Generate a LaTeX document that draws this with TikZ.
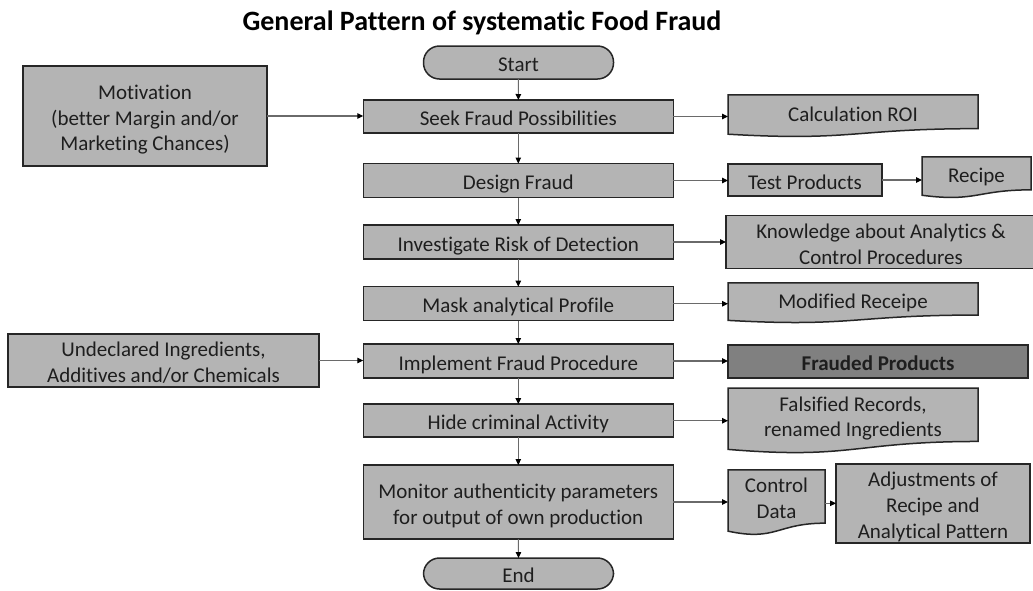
\documentclass[tikz,border=0pt]{standalone}
\usepackage{fontspec}
\setmainfont{Carlito}[Ligatures=NoCommon]
\usetikzlibrary{arrows.meta,backgrounds}

\definecolor{boxfill}{HTML}{B4B4B4}
\definecolor{darkfill}{HTML}{808080}
\definecolor{edge}{HTML}{262626}
\definecolor{wire}{HTML}{6A6A6A}
\definecolor{ink}{HTML}{1E1E1E}

% tall strut opening the first line of a text block
\newcommand\upstrut{\rule{0pt}{1.1em}}

\tikzset{
  txt/.style={font=\fontsize{21}{25.6}\selectfont, text=ink, align=center,
              inner sep=0pt, outer sep=0pt,
              execute at begin node={\upstrut},
              execute at end node={\rule[-0.22em]{0pt}{0.22em}}},
  procbox/.style={txt, rectangle, draw=edge, fill=boxfill, line width=1.5pt},
  termbox/.style={procbox, rounded corners=16pt},
  docarea/.style={txt, rectangle},
  docshape/.style={draw=edge, fill=boxfill, line width=1.5pt},
  flow/.style={draw=wire, line width=1.1pt,
               -{Triangle[length=6pt,width=5.5pt,color=black]}},
}

% wavy-bottom document outline around a text area node (#2 = its height)
\newcommand\docwave[2]{%
  \path[docshape] (#1.north west) -- (#1.north east) -- (#1.south east)
    .. controls (#1.south) and ([yshift=-0.38*#2pt]#1.south)
    .. ([yshift=-0.1646*#2pt]#1.south west) -- cycle;}

\begin{document}
\begin{tikzpicture}[x=1pt,y=-1pt]
  \useasboundingbox (0,0) rectangle (1033,590);

  % title
  \node[anchor=base, inner sep=0pt, font=\fontsize{28}{32}\selectfont\bfseries, text=black]
    (title) at (482,30) {General Pattern of systematic Food Fraud};

  % main process column
  \node[termbox, minimum width=190pt, minimum height=33pt] (start) at (518.5,62.5) {Start};
  \node[procbox, minimum width=310pt, minimum height=33pt] (seek) at (518.3,116.5) {Seek Fraud Possibilities};
  \node[procbox, minimum width=310pt, minimum height=34pt] (design) at (518.3,180.5) {Design Fraud};
  \node[procbox, minimum width=310pt, minimum height=34pt] (invest) at (518.3,242) {Investigate Risk of Detection};
  \node[procbox, minimum width=310pt, minimum height=34pt] (mask) at (518.3,303.7) {Mask analytical Profile};
  \node[procbox, minimum width=310pt, minimum height=34pt] (impl) at (518.3,361) {Implement Fraud Procedure};
  \node[procbox, minimum width=310pt, minimum height=33pt] (hide) at (518.3,420.7) {Hide criminal Activity};
  \node[procbox, minimum width=310pt, minimum height=74pt] (monitor) at (518.3,502)
    {\upstrut Monitor authenticity parameters\\for output of own production};
  \node[termbox, minimum width=190pt, minimum height=31pt] (end) at (518.5,573.5) {End};

  % inputs on the left
  \node[procbox, minimum width=244pt, minimum height=100pt] (motiv) at (145,116)
    {\upstrut Motivation\\(better Margin and/or\\Marketing Chances)};
  \node[procbox, minimum width=311pt, minimum height=51pt] (undecl) at (163.5,360.5)
    {\upstrut Undeclared Ingredients,\\Additives and/or Chemicals};

  % outputs on the right
  \node[docarea, minimum width=250pt, minimum height=33.7pt] (roi) at (853,111.8) {Calculation ROI};
  \node[procbox, minimum width=154pt, minimum height=32pt] (test) at (805,180) {Test Products};
  \node[docarea, minimum width=109pt, minimum height=32.9pt] (recipe) at (976.5,173.4) {Recipe};
  \node[procbox, minimum width=310pt, minimum height=50pt] (know) at (881,242)
    {\upstrut Knowledge about Analytics \&\\Control Procedures};
  \node[docarea, minimum width=250pt, minimum height=32.3pt] (modrec) at (853,298.9) {Modified Receipe};
  \node[procbox, fill=darkfill, font=\fontsize{21}{25.6}\selectfont\bfseries,
        minimum width=300pt, minimum height=33pt] (fraud) at (878,361.3) {Frauded Products};
  \node[docarea, minimum width=250pt, minimum height=48.1pt] (falsif) at (853,414.8)
    {\upstrut Falsified Records,\\renamed Ingredients};
  \node[docarea, minimum width=97pt, minimum height=48.4pt] (ctrl) at (776.5,496.5)
    {\upstrut Control\\Data};
  \node[procbox, minimum width=194pt, minimum height=76.7pt] (adj) at (933,503.3)
    {\upstrut Adjustments of\\Recipe and\\Analytical Pattern};

  \begin{scope}[on background layer]
    \fill[white] (0,0) rectangle (1033,590);
    \docwave{roi}{33.7}
    \docwave{recipe}{32.9}
    \docwave{modrec}{32.3}
    \docwave{falsif}{48.1}
    \docwave{ctrl}{48.4}
  \end{scope}

  % main flow
  \draw[flow] (start) -- (seek);
  \draw[flow] (seek) -- (design);
  \draw[flow] (design) -- (invest);
  \draw[flow] (invest) -- (mask);
  \draw[flow] (mask) -- (impl);
  \draw[flow] (impl) -- (hide);
  \draw[flow] (hide) -- (monitor);
  \draw[flow] (monitor) -- (end);

  % inputs
  \draw[flow] (motiv.east) -- (motiv.east -| seek.west);
  \draw[flow] (undecl.east) -- (undecl.east -| impl.west);

  % outputs
  \draw[flow] (seek.east) -- (seek.east -| roi.west);
  \draw[flow] (design.east) -- (design.east -| test.west);
  \draw[flow] (test.east) -- (test.east -| recipe.west);
  \draw[flow] (invest.east) -- (invest.east -| know.west);
  \draw[flow] (mask.east) -- (mask.east -| modrec.west);
  \draw[flow] (impl.east) -- (impl.east -| fraud.west);
  \draw[flow] (hide.east) -- (hide.east -| falsif.west);
  \draw[flow] (monitor.east) -- (monitor.east -| ctrl.west);
  \draw[flow] (adj.west -| ctrl.east) -- (adj.west);
\end{tikzpicture}
\end{document}
